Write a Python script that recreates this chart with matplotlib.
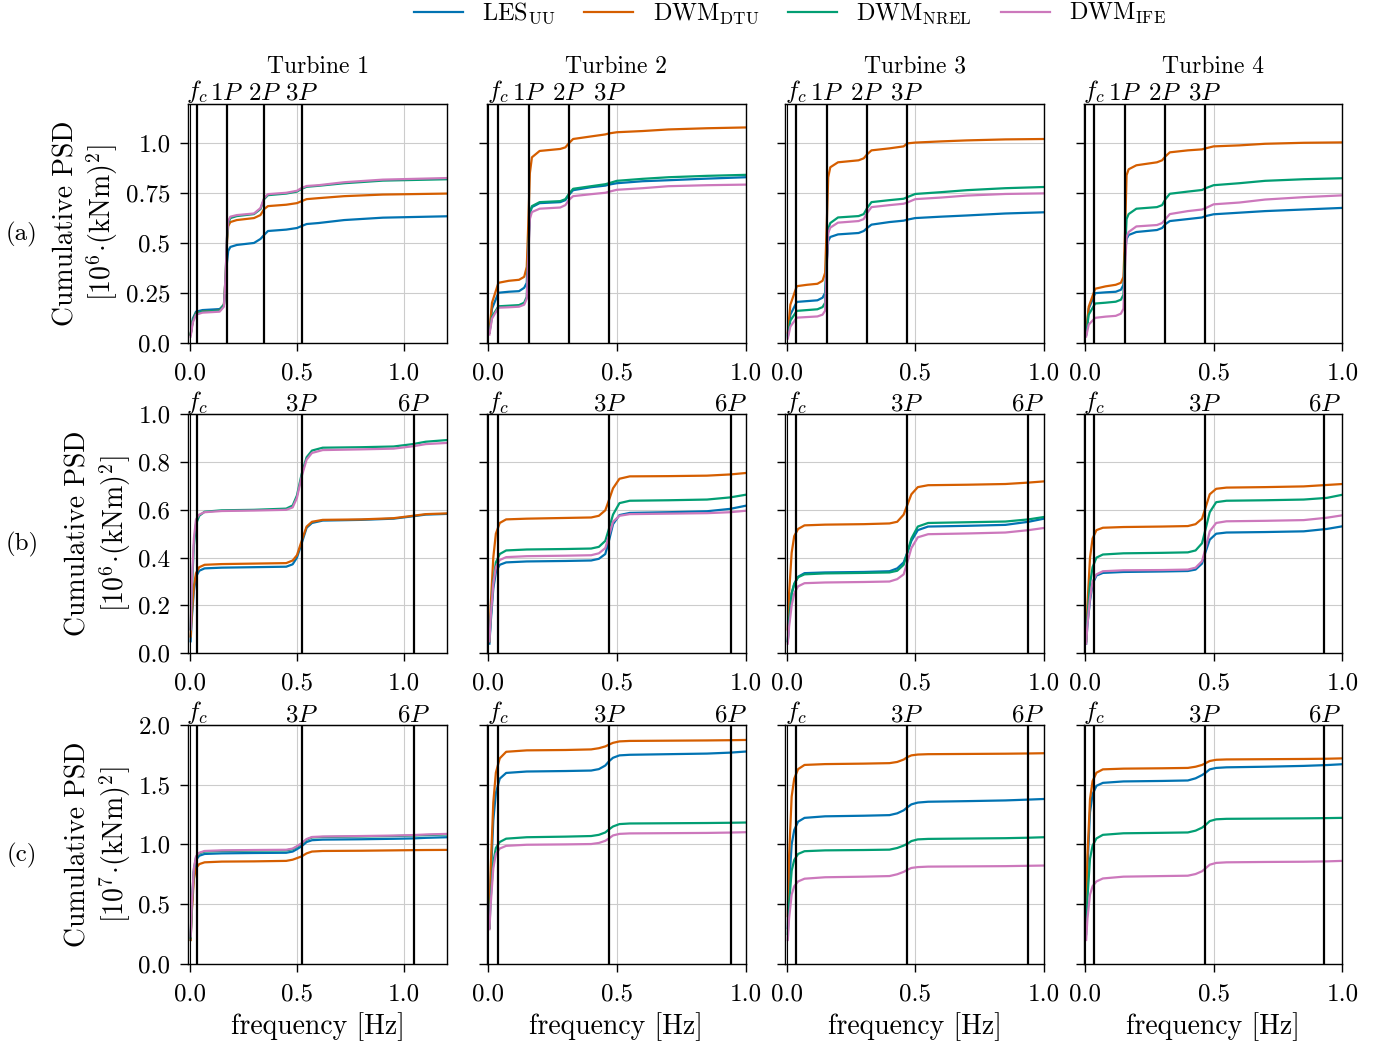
import numpy as np
import matplotlib
matplotlib.use('Agg')
import matplotlib.pyplot as plt

plt.rcParams['font.family'] = 'serif'
plt.rcParams['font.serif'] = ['cmr10']
plt.rcParams['mathtext.fontset'] = 'cm'
plt.rcParams['axes.formatter.use_mathtext'] = True
plt.rcParams['axes.unicode_minus'] = False

# series names and colours
series = [r'LES$_{\rm UU}$', r'DWM$_{\rm DTU}$', r'DWM$_{\rm NREL}$', r'DWM$_{\rm IFE}$']
colors = ['#0173b2', '#d55e00', '#029e73', '#cc78bc']
turbines = ['Turbine 1', 'Turbine 2', 'Turbine 3', 'Turbine 4']

# characteristic frequencies per turbine [Hz]
f_c = [0.036, 0.038, 0.036, 0.035]
f_1P = [0.174, 0.157, 0.156, 0.155]
x_max = [1.2, 1.0, 1.0, 1.0]

# frequency grids
freq_a_t1 = [0.005, 0.015, 0.03, 0.06, 0.14, 0.16, 0.168, 0.174, 0.18, 0.19, 0.22, 0.3,
             0.33, 0.347, 0.365, 0.45, 0.5, 0.522, 0.545, 0.6, 0.72, 0.9, 1.2]
freq_a = [0.005, 0.015, 0.04, 0.08, 0.12, 0.14, 0.15, 0.156, 0.162, 0.17, 0.2, 0.28, 0.3,
          0.313, 0.33, 0.4, 0.455, 0.469, 0.5, 0.6, 0.7, 0.85, 1.0]
freq_bc_t1 = [0.005, 0.01, 0.02, 0.03, 0.045, 0.07, 0.15, 0.3, 0.45, 0.48, 0.5, 0.522,
              0.545, 0.57, 0.62, 0.8, 0.95, 1.04, 1.1, 1.2]
freq_bc = [0.005, 0.01, 0.02, 0.03, 0.045, 0.07, 0.15, 0.3, 0.4, 0.43, 0.455, 0.469,
           0.485, 0.51, 0.55, 0.7, 0.85, 0.94, 1.0]

# (a) cumulative PSD [1e6 (kNm)^2], order: LES_UU, DWM_DTU, DWM_NREL, DWM_IFE
psd_a_t1 = [
    [0.04, 0.12, 0.155, 0.163, 0.168, 0.19, 0.28, 0.40, 0.46, 0.48, 0.49, 0.50, 0.52, 0.54, 0.56, 0.567, 0.575, 0.585, 0.595, 0.60, 0.615, 0.627, 0.634],
    [0.04, 0.11, 0.148, 0.155, 0.16, 0.19, 0.33, 0.50, 0.585, 0.605, 0.615, 0.625, 0.64, 0.67, 0.685, 0.692, 0.70, 0.71, 0.72, 0.725, 0.735, 0.743, 0.748],
    [0.04, 0.11, 0.148, 0.155, 0.16, 0.19, 0.34, 0.52, 0.60, 0.625, 0.635, 0.645, 0.67, 0.72, 0.74, 0.748, 0.758, 0.772, 0.782, 0.787, 0.80, 0.813, 0.82],
    [0.03, 0.10, 0.14, 0.15, 0.155, 0.18, 0.34, 0.53, 0.61, 0.632, 0.64, 0.648, 0.675, 0.725, 0.745, 0.752, 0.762, 0.776, 0.786, 0.79, 0.805, 0.818, 0.826],
]
psd_a_t2 = [
    [0.05, 0.17, 0.25, 0.255, 0.258, 0.275, 0.30, 0.50, 0.65, 0.68, 0.70, 0.705, 0.715, 0.74, 0.765, 0.78, 0.788, 0.793, 0.80, 0.81, 0.815, 0.823, 0.83],
    [0.05, 0.20, 0.30, 0.31, 0.315, 0.33, 0.38, 0.60, 0.85, 0.93, 0.962, 0.972, 0.98, 1.0, 1.022, 1.035, 1.045, 1.05, 1.056, 1.062, 1.07, 1.076, 1.08],
    [0.05, 0.13, 0.182, 0.185, 0.188, 0.20, 0.23, 0.45, 0.65, 0.685, 0.705, 0.71, 0.72, 0.745, 0.772, 0.785, 0.795, 0.80, 0.812, 0.822, 0.83, 0.837, 0.842],
    [0.04, 0.12, 0.175, 0.177, 0.18, 0.19, 0.22, 0.43, 0.62, 0.655, 0.672, 0.678, 0.69, 0.715, 0.735, 0.745, 0.752, 0.757, 0.767, 0.775, 0.785, 0.79, 0.793],
]
psd_a_t3 = [
    [0.04, 0.14, 0.204, 0.208, 0.212, 0.225, 0.25, 0.40, 0.51, 0.53, 0.543, 0.55, 0.56, 0.575, 0.592, 0.605, 0.612, 0.617, 0.625, 0.632, 0.638, 0.648, 0.654],
    [0.05, 0.19, 0.283, 0.29, 0.295, 0.31, 0.35, 0.58, 0.83, 0.88, 0.905, 0.915, 0.925, 0.945, 0.965, 0.975, 0.985, 1.0, 1.004, 1.01, 1.015, 1.02, 1.022],
    [0.03, 0.11, 0.159, 0.163, 0.167, 0.178, 0.20, 0.40, 0.57, 0.60, 0.628, 0.635, 0.645, 0.675, 0.705, 0.715, 0.722, 0.73, 0.746, 0.755, 0.765, 0.775, 0.781],
    [0.02, 0.08, 0.125, 0.128, 0.131, 0.14, 0.16, 0.37, 0.55, 0.577, 0.602, 0.61, 0.62, 0.65, 0.68, 0.69, 0.697, 0.703, 0.72, 0.728, 0.738, 0.746, 0.749],
]
psd_a_t4 = [
    [0.04, 0.17, 0.248, 0.252, 0.255, 0.265, 0.29, 0.45, 0.52, 0.54, 0.555, 0.565, 0.575, 0.595, 0.61, 0.62, 0.628, 0.635, 0.644, 0.652, 0.66, 0.668, 0.676],
    [0.05, 0.18, 0.27, 0.282, 0.29, 0.30, 0.33, 0.55, 0.84, 0.87, 0.89, 0.905, 0.915, 0.935, 0.955, 0.965, 0.97, 0.975, 0.985, 0.99, 0.998, 1.003, 1.005],
    [0.04, 0.14, 0.196, 0.20, 0.205, 0.215, 0.24, 0.45, 0.62, 0.645, 0.672, 0.68, 0.69, 0.72, 0.747, 0.758, 0.766, 0.775, 0.79, 0.80, 0.812, 0.82, 0.825],
    [0.03, 0.09, 0.124, 0.13, 0.134, 0.145, 0.17, 0.38, 0.53, 0.555, 0.583, 0.59, 0.60, 0.62, 0.645, 0.66, 0.668, 0.675, 0.694, 0.703, 0.718, 0.73, 0.739],
]

# (b) cumulative PSD [1e6 (kNm)^2]
psd_b_t1 = [
    [0.05, 0.14, 0.26, 0.32, 0.345, 0.355, 0.358, 0.36, 0.362, 0.372, 0.40, 0.46, 0.525, 0.545, 0.555, 0.558, 0.563, 0.573, 0.58, 0.583],
    [0.07, 0.16, 0.28, 0.335, 0.36, 0.37, 0.373, 0.375, 0.377, 0.388, 0.41, 0.47, 0.53, 0.55, 0.558, 0.56, 0.565, 0.575, 0.582, 0.585],
    [0.10, 0.25, 0.45, 0.54, 0.575, 0.592, 0.598, 0.60, 0.605, 0.618, 0.66, 0.75, 0.82, 0.848, 0.86, 0.862, 0.865, 0.875, 0.885, 0.892],
    [0.10, 0.28, 0.48, 0.56, 0.58, 0.59, 0.595, 0.597, 0.60, 0.61, 0.65, 0.74, 0.81, 0.838, 0.85, 0.853, 0.856, 0.866, 0.875, 0.88],
]
psd_b_t2 = [
    [0.04, 0.13, 0.27, 0.34, 0.37, 0.38, 0.384, 0.386, 0.388, 0.395, 0.415, 0.47, 0.54, 0.578, 0.587, 0.59, 0.594, 0.604, 0.617],
    [0.05, 0.20, 0.40, 0.50, 0.545, 0.56, 0.563, 0.566, 0.568, 0.575, 0.598, 0.64, 0.69, 0.73, 0.74, 0.741, 0.743, 0.748, 0.754],
    [0.05, 0.15, 0.30, 0.38, 0.415, 0.43, 0.434, 0.436, 0.438, 0.445, 0.47, 0.52, 0.58, 0.628, 0.638, 0.64, 0.643, 0.652, 0.663],
    [0.05, 0.15, 0.29, 0.36, 0.39, 0.402, 0.406, 0.408, 0.41, 0.418, 0.44, 0.49, 0.55, 0.575, 0.582, 0.584, 0.586, 0.59, 0.596],
]
psd_b_t3 = [
    [0.05, 0.14, 0.25, 0.29, 0.32, 0.335, 0.338, 0.34, 0.343, 0.355, 0.38, 0.42, 0.47, 0.515, 0.53, 0.533, 0.537, 0.55, 0.563],
    [0.10, 0.25, 0.42, 0.49, 0.52, 0.535, 0.538, 0.54, 0.543, 0.55, 0.58, 0.62, 0.665, 0.695, 0.703, 0.705, 0.708, 0.714, 0.719],
    [0.05, 0.14, 0.25, 0.29, 0.318, 0.33, 0.334, 0.336, 0.338, 0.345, 0.37, 0.42, 0.48, 0.53, 0.545, 0.548, 0.551, 0.56, 0.57],
    [0.04, 0.11, 0.20, 0.25, 0.28, 0.293, 0.296, 0.298, 0.30, 0.31, 0.33, 0.38, 0.44, 0.485, 0.498, 0.501, 0.505, 0.515, 0.524],
]
psd_b_t4 = [
    [0.04, 0.12, 0.22, 0.29, 0.325, 0.336, 0.34, 0.342, 0.344, 0.35, 0.375, 0.425, 0.475, 0.50, 0.505, 0.507, 0.51, 0.52, 0.531],
    [0.05, 0.20, 0.40, 0.48, 0.515, 0.525, 0.528, 0.53, 0.532, 0.54, 0.563, 0.61, 0.665, 0.688, 0.693, 0.695, 0.698, 0.704, 0.708],
    [0.05, 0.15, 0.29, 0.36, 0.40, 0.413, 0.418, 0.42, 0.422, 0.43, 0.46, 0.52, 0.59, 0.632, 0.638, 0.64, 0.643, 0.65, 0.663],
    [0.04, 0.12, 0.23, 0.30, 0.33, 0.343, 0.347, 0.348, 0.35, 0.358, 0.385, 0.44, 0.51, 0.545, 0.552, 0.554, 0.557, 0.567, 0.577],
]

# (c) cumulative PSD [1e7 (kNm)^2]
psd_c_t1 = [
    [0.20, 0.45, 0.77, 0.87, 0.905, 0.92, 0.925, 0.928, 0.93, 0.94, 0.96, 0.985, 1.02, 1.035, 1.04, 1.043, 1.047, 1.05, 1.055, 1.06],
    [0.20, 0.42, 0.71, 0.80, 0.835, 0.85, 0.856, 0.858, 0.862, 0.872, 0.885, 0.90, 0.925, 0.94, 0.945, 0.947, 0.95, 0.952, 0.953, 0.954],
    [0.22, 0.49, 0.79, 0.89, 0.925, 0.94, 0.945, 0.948, 0.95, 0.96, 0.98, 1.005, 1.04, 1.058, 1.062, 1.066, 1.07, 1.074, 1.078, 1.083],
    [0.23, 0.50, 0.80, 0.90, 0.93, 0.945, 0.95, 0.953, 0.955, 0.965, 0.985, 1.01, 1.045, 1.062, 1.066, 1.07, 1.074, 1.078, 1.083, 1.088],
]
psd_c_t2 = [
    [0.30, 0.70, 1.20, 1.43, 1.55, 1.598, 1.61, 1.614, 1.618, 1.63, 1.66, 1.695, 1.725, 1.745, 1.75, 1.755, 1.76, 1.768, 1.777],
    [0.30, 0.80, 1.35, 1.60, 1.72, 1.775, 1.787, 1.79, 1.795, 1.805, 1.82, 1.835, 1.85, 1.862, 1.866, 1.868, 1.87, 1.872, 1.874],
    [0.30, 0.55, 0.85, 0.97, 1.02, 1.048, 1.06, 1.065, 1.07, 1.08, 1.10, 1.125, 1.15, 1.17, 1.175, 1.177, 1.179, 1.181, 1.183],
    [0.29, 0.50, 0.80, 0.92, 0.965, 0.988, 0.997, 1.0, 1.003, 1.012, 1.03, 1.05, 1.075, 1.088, 1.092, 1.094, 1.096, 1.099, 1.102],
]
psd_c_t3 = [
    [0.30, 0.65, 1.00, 1.12, 1.19, 1.222, 1.235, 1.24, 1.245, 1.26, 1.285, 1.31, 1.335, 1.35, 1.357, 1.362, 1.368, 1.375, 1.38],
    [0.40, 0.90, 1.40, 1.55, 1.63, 1.665, 1.672, 1.676, 1.68, 1.69, 1.71, 1.73, 1.745, 1.752, 1.755, 1.757, 1.759, 1.761, 1.763],
    [0.25, 0.50, 0.78, 0.87, 0.92, 0.943, 0.95, 0.953, 0.956, 0.97, 0.99, 1.005, 1.028, 1.042, 1.046, 1.049, 1.052, 1.056, 1.06],
    [0.20, 0.38, 0.58, 0.65, 0.69, 0.713, 0.725, 0.73, 0.735, 0.75, 0.77, 0.787, 0.803, 0.81, 0.814, 0.816, 0.818, 0.821, 0.823],
]
psd_c_t4 = [
    [0.35, 0.80, 1.27, 1.42, 1.49, 1.515, 1.527, 1.531, 1.535, 1.553, 1.58, 1.60, 1.628, 1.64, 1.645, 1.65, 1.657, 1.664, 1.671],
    [0.40, 0.90, 1.38, 1.53, 1.60, 1.628, 1.634, 1.637, 1.64, 1.65, 1.665, 1.68, 1.698, 1.708, 1.711, 1.713, 1.715, 1.717, 1.72],
    [0.25, 0.55, 0.88, 0.99, 1.05, 1.08, 1.093, 1.097, 1.10, 1.115, 1.14, 1.163, 1.195, 1.21, 1.214, 1.216, 1.218, 1.22, 1.222],
    [0.20, 0.38, 0.58, 0.65, 0.69, 0.715, 0.73, 0.735, 0.738, 0.752, 0.775, 0.80, 0.83, 0.845, 0.85, 0.853, 0.855, 0.858, 0.862],
]

rows = [
    ([freq_a_t1, freq_a, freq_a, freq_a], [psd_a_t1, psd_a_t2, psd_a_t3, psd_a_t4]),
    ([freq_bc_t1, freq_bc, freq_bc, freq_bc], [psd_b_t1, psd_b_t2, psd_b_t3, psd_b_t4]),
    ([freq_bc_t1, freq_bc, freq_bc, freq_bc], [psd_c_t1, psd_c_t2, psd_c_t3, psd_c_t4]),
]
row_tags = ['(a)', '(b)', '(c)']
row_units = ['6', '6', '7']
row_ylim = [1.2, 1.0, 2.0]
row_yticks = [[0, 0.25, 0.5, 0.75, 1.0], [0, 0.2, 0.4, 0.6, 0.8, 1.0], [0, 0.5, 1.0, 1.5, 2.0]]
row_yticklabels = [['0.0', '0.25', '0.5', '0.75', '1.0'],
                   ['0.0', '0.2', '0.4', '0.6', '0.8', '1.0'],
                   ['0.0', '0.5', '1.0', '1.5', '2.0']]

fig, axes = plt.subplots(3, 4, figsize=(13.86, 10.46), dpi=100)
fig.subplots_adjust(left=0.136, right=0.9685, top=0.901, bottom=0.0785,
                    wspace=0.153, hspace=0.30)

for r, (freqs, psds) in enumerate(rows):
    for c in range(4):
        ax = axes[r, c]
        ax.grid(True, color='#cccccc', lw=0.8)
        ax.set_axisbelow(True)
        for k in range(4):
            ax.plot(freqs[c], psds[c][k], color=colors[k], lw=1.6, label=series[k])

        fc, p1 = f_c[c], f_1P[c]
        if r == 0:
            marks = [fc, p1, 2 * p1, 3 * p1]
            names = [r'$f_c$', r'$1P$', r'$2P$', r'$3P$']
        else:
            marks = [fc, 3 * p1, 6 * p1]
            names = [r'$f_c$', r'$3P$', r'$6P$']
        ax.axvline(0, color='k', lw=0.8)
        for m in marks:
            ax.axvline(m, color='k', lw=1.6)

        ax.set_xlim(-0.005, x_max[c])
        ax.set_xticks([0, 0.5, 1.0])
        ax.set_xticklabels(['0.0', '0.5', '1.0'])
        ax.set_ylim(0, row_ylim[r])
        ax.set_yticks(row_yticks[r])
        if c == 0:
            ax.set_yticklabels(row_yticklabels[r])
            ax.set_ylabel('Cumulative PSD\n[$10^{' + row_units[r] + r'}\!\cdot\!(\mathrm{kNm})^2$]',
                          fontsize=20, labelpad=4)
        else:
            ax.set_yticklabels([])
        ax.tick_params(direction='out', length=6, width=1.0, labelsize=18)
        ax.tick_params(axis='x', pad=8)
        ax.tick_params(axis='y', pad=7)
        for s in ax.spines.values():
            s.set_linewidth(1.0)

        sec = ax.secondary_xaxis('top')
        sec.set_xticks(marks)
        sec.set_xticklabels(names)
        sec.tick_params(length=0, pad=-1, labelsize=18)

        if r == 0:
            ax.set_title(turbines[c], fontsize=17, pad=2)
        if r == 2:
            ax.set_xlabel('frequency [Hz]', fontsize=20, labelpad=5)

    pos = axes[r, 0].get_position()
    fig.text(22 / 1386, 0.5 * (pos.y0 + pos.y1) - 11 / 1046,
             row_tags[r], fontsize=18, ha='center', va='center')

handles, labels = axes[0, 0].get_legend_handles_labels()
fig.legend(handles, labels, loc='upper center', bbox_to_anchor=(0.57, 1.02), ncol=4,
           frameon=False, fontsize=17.5, handlelength=2.0, columnspacing=1.2)

fig.savefig('out.png', dpi=100)
